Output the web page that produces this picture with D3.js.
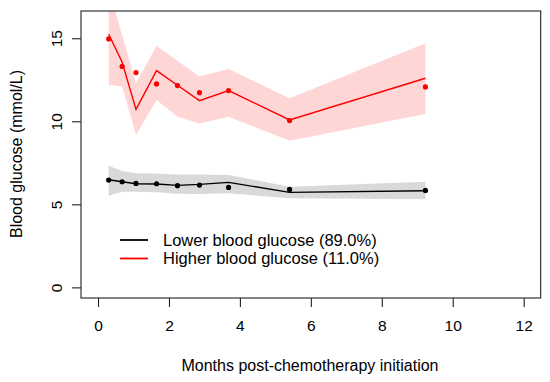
<!DOCTYPE html>
<html><head><meta charset="utf-8">
<script src="https://cdn.jsdelivr.net/npm/d3@7"></script>
<style>body{margin:0;background:#fff}svg{display:block}text{font-family:"Liberation Sans",Arial,sans-serif;fill:#000}</style>
</head><body>
<svg id="c" width="550" height="382"></svg>
<script>
const months = [0.30, 0.68, 1.07, 1.65, 2.24, 2.86, 3.68, 5.40, 9.23];
const lowObs   = [6.46, 6.36, 6.26, 6.24, 6.12, 6.16, 6.02, 5.90, 5.84];
const lowFit   = [6.48, 6.36, 6.24, 6.22, 6.14, 6.20, 6.32, 5.72, 5.82];
const lowUpper = [7.33, 7.00, 6.87, 6.85, 6.80, 6.80, 6.77, 6.06, 6.36];
const lowLower = [5.52, 5.76, 5.76, 5.72, 5.64, 5.62, 5.66, 5.36, 5.30];
const highObs   = [14.96, 13.30, 12.93, 12.25, 12.15, 11.72, 11.85, 10.04, 12.07];
const highFit   = [15.24, 13.55, 10.72, 13.05, 12.17, 11.24, 11.85, 10.08, 12.59];
const highUpper = [18.00, 15.20, 12.29, 14.55, 13.64, 12.69, 13.15, 11.38, 14.70];
const highLower = [12.19, 12.09, 9.17, 11.28, 10.28, 9.86, 10.28, 8.83, 10.44];
const xTicks = [0, 2, 4, 6, 8, 10, 12];
const yTicks = [0, 5, 10, 15];
const legendLabels = ["Lower blood glucose (89.0%)", "Higher blood glucose (11.0%)"];

const svg = d3.select("#c");
const L = 81, R = 540.7, T = 11, B = 298;
const x = d3.scaleLinear().domain([-0.48, 12.48]).range([L, R]);
const y = d3.scaleLinear().domain([-0.64, 16.64]).range([B, T]);

svg.append("clipPath").attr("id","clip").append("rect")
  .attr("x", L).attr("y", T).attr("width", R - L).attr("height", B - T);
const g = svg.append("g").attr("clip-path","url(#clip)");

const series = [
  {obs: lowObs, fit: lowFit, up: lowUpper, lo: lowLower, col: "#000", band: "rgba(0,0,0,0.15)"},
  {obs: highObs, fit: highFit, up: highUpper, lo: highLower, col: "#ff0000", band: "rgba(255,0,0,0.16)"}
];
const area = d3.area().x(d => x(d.m)).y0(d => y(d.lo)).y1(d => y(d.up));
const line = d3.line().x(d => x(d.m)).y(d => y(d.v));
series.forEach(s => {
  const rows = months.map((m, i) => ({m, lo: s.lo[i], up: s.up[i], v: s.fit[i], o: s.obs[i]}));
  g.append("path").datum(rows).attr("d", area).attr("fill", s.band);
  s.rows = rows;
});
series.forEach(s => {
  g.append("path").datum(s.rows).attr("d", line).attr("fill","none")
    .attr("stroke", s.col).attr("stroke-width", 1.4);
  g.selectAll(null).data(s.rows).enter().append("circle")
    .attr("cx", d => x(d.m)).attr("cy", d => y(d.o)).attr("r", 2.6).attr("fill", s.col);
});

// box
svg.append("rect").attr("x", L).attr("y", T).attr("width", R - L).attr("height", B - T)
  .attr("fill","none").attr("stroke","#222").attr("stroke-width",1.1);

// x axis
const xa = svg.append("g").attr("transform", `translate(0,${B})`)
  .call(d3.axisBottom(x).tickValues(xTicks).tickSize(9).tickPadding(13).tickFormat(d3.format("d")));
xa.select(".domain").remove();
xa.selectAll("line").attr("stroke","#222").attr("stroke-width",1.1);
xa.selectAll("text").attr("font-size", 15.5).attr("font-family", '"Liberation Sans",Arial,sans-serif').attr("fill","#000");

// y axis
const ya = svg.append("g").attr("transform", `translate(${L},0)`)
  .call(d3.axisLeft(y).tickValues(yTicks).tickSize(9).tickFormat(d3.format("d")));
ya.select(".domain").remove();
ya.selectAll("line").attr("stroke","#222").attr("stroke-width",1.1);
ya.selectAll("text").remove();
ya.selectAll(".tick").append("text")
  .attr("transform", "translate(-24,0) rotate(-90)")
  .attr("text-anchor","middle").attr("dy","0.35em")
  .attr("font-size", 15.5).text(d => d);

// axis titles
svg.append("text").attr("x", 310).attr("y", 370.5).attr("text-anchor","middle")
  .attr("font-size", 16).text("Months post-chemotherapy initiation");
svg.append("text").attr("transform", `translate(22,${154}) rotate(-90)`)
  .attr("text-anchor","middle").attr("font-size", 16).text("Blood glucose (mmol/L)");

// legend
const leg = svg.append("g");
legendLabels.forEach((t, i) => {
  const yy = 240 + i * 18.5;
  leg.append("line").attr("x1", 120).attr("x2", 148).attr("y1", yy).attr("y2", yy)
    .attr("stroke", series[i].col).attr("stroke-width", 1.8);
  leg.append("text").attr("x", 163).attr("y", yy).attr("dy","0.35em").attr("font-size", 16.5).text(t);
});
</script>
</body></html>
